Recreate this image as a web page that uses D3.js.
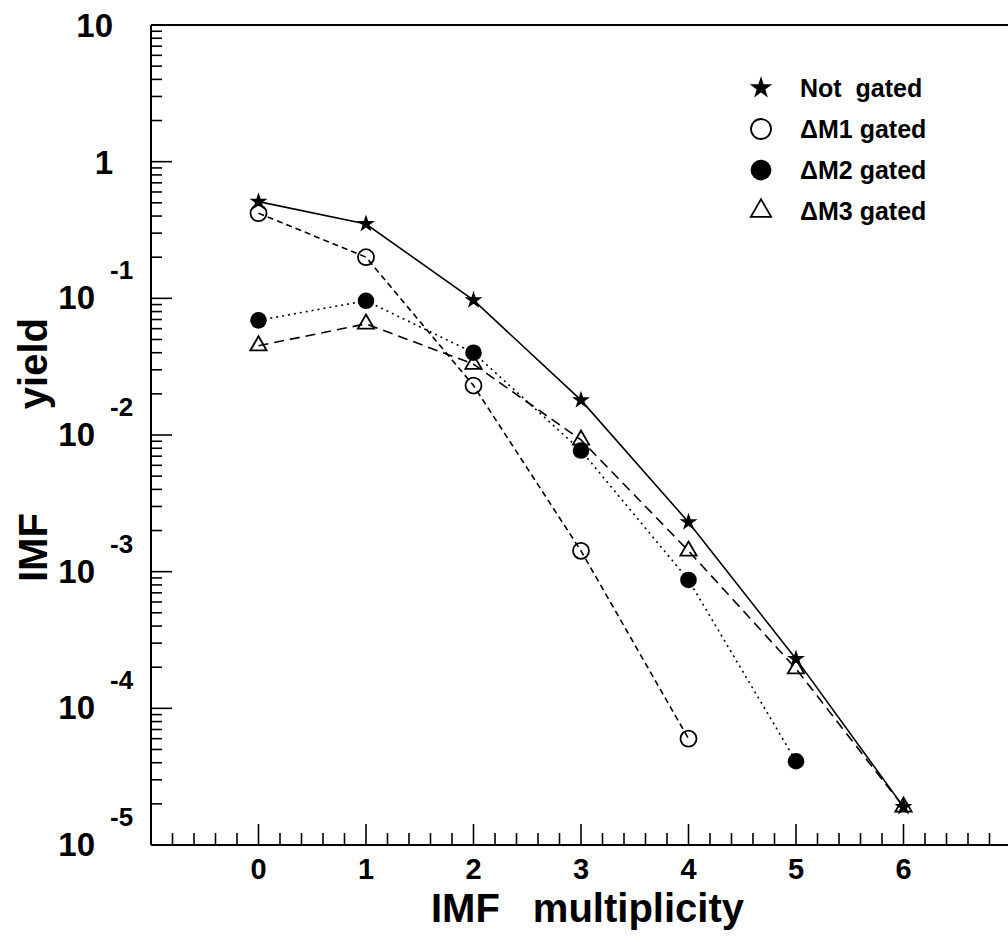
<!DOCTYPE html>
<html>
<head>
<meta charset="utf-8">
<script src="https://cdn.jsdelivr.net/npm/d3@7"></script>
<style>
  body { margin: 0; background: #fff; }
  text { font-family: "Liberation Sans", Arial, sans-serif; font-weight: bold; fill: #000; }
</style>
</head>
<body>
<div id="chart"></div>
<script>
// data
var multiplicity = [0, 1, 2, 3, 4, 5, 6];
var notGated = [0.51, 0.35, 0.097, 0.018, 0.0023, 0.00023, 0.000019];
var dm1Gated = [0.42, 0.20, 0.023, 0.00142, 0.00006];
var dm2Gated = [0.069, 0.096, 0.040, 0.0077, 0.00087, 0.000041];
var dm3Gated = [0.045, 0.065, 0.033, 0.0092, 0.00142, 0.000195, 0.000019];
var seriesNames = ["Not  gated", "\u0394M1 gated", "\u0394M2 gated", "\u0394M3 gated"];
var xTickValues = [0, 1, 2, 3, 4, 5, 6];
var yDecades = [1, 0, -1, -2, -3, -4, -5];

var svgWidth = 1008;
var svgHeight = 946;

var svg = d3.select("#chart")
    .append("svg")
    .attr("width", svgWidth)
    .attr("height", svgHeight);

// scales
var xScale = d3.scaleLinear().domain([-1, 7]).range([151, 1011]);
var yScale = d3.scaleLog().domain([1e-5, 10]).range([845, 25]);

// frame
svg.append("line")
    .attr("x1", xScale(-1)).attr("x2", svgWidth)
    .attr("y1", yScale(10)).attr("y2", yScale(10))
    .attr("stroke", "#000").attr("stroke-width", 2);
svg.append("line")
    .attr("x1", xScale(-1)).attr("x2", xScale(-1))
    .attr("y1", yScale(10)).attr("y2", yScale(1e-5))
    .attr("stroke", "#000").attr("stroke-width", 2);
svg.append("line")
    .attr("x1", xScale(-1)).attr("x2", svgWidth)
    .attr("y1", yScale(1e-5)).attr("y2", yScale(1e-5))
    .attr("stroke", "#000").attr("stroke-width", 2);

// x ticks: major every 1, minor every 0.2
var xMinor = d3.range(-1, 7.01, 0.2).map(function(v){ return Math.round(v * 10) / 10; });
svg.append("g").selectAll("line")
    .data(xMinor)
    .enter()
    .append("line")
    .attr("x1", d => xScale(d)).attr("x2", d => xScale(d))
    .attr("y1", yScale(1e-5))
    .attr("y2", d => yScale(1e-5) - (Number.isInteger(d) ? 21 : 12))
    .attr("stroke", "#000").attr("stroke-width", 1.6);

svg.append("g").selectAll("text")
    .data(xTickValues)
    .enter()
    .append("text")
    .attr("x", d => xScale(d))
    .attr("y", 879)
    .attr("text-anchor", "middle")
    .attr("font-size", "29px")
    .text(d => d);

// y ticks: decades and 2..9 minors
var yTicks = [];
d3.range(-5, 1).forEach(function(e){
    d3.range(1, 10).forEach(function(m){
        yTicks.push({v: m * Math.pow(10, e), major: m === 1});
    });
});
yTicks.push({v: 10, major: true});
svg.append("g").selectAll("line")
    .data(yTicks)
    .enter()
    .append("line")
    .attr("x1", xScale(-1))
    .attr("x2", d => xScale(-1) + (d.major ? 21 : 11))
    .attr("y1", d => yScale(d.v)).attr("y2", d => yScale(d.v))
    .attr("stroke", "#000").attr("stroke-width", 1.6);

// y tick labels
var yLabels = svg.append("g");
yDecades.forEach(function(e){
    var y = yScale(Math.pow(10, e));
    if (e >= 0) {
        yLabels.append("text")
            .attr("x", 113).attr("y", y + 12)
            .attr("text-anchor", "end")
            .attr("font-size", "33px")
            .text(e === 1 ? "10" : "1");
    } else {
        yLabels.append("text")
            .attr("x", 95).attr("y", y + 11)
            .attr("text-anchor", "end")
            .attr("font-size", "33px")
            .text("10");
        yLabels.append("text")
            .attr("x", 110).attr("y", y - 19)
            .attr("font-size", "26px")
            .text(e);
    }
});

// axis titles
svg.append("text")
    .attr("x", 431).attr("y", 922)
    .attr("font-size", "40px")
    .text("IMF");
svg.append("text")
    .attr("x", 744).attr("y", 922)
    .attr("text-anchor", "end")
    .attr("font-size", "40px")
    .text("multiplicity");
svg.append("text")
    .attr("transform", "translate(47, 582) rotate(-90)")
    .attr("font-size", "40px")
    .text("IMF");
svg.append("text")
    .attr("transform", "translate(47, 318) rotate(-90)")
    .attr("text-anchor", "end")
    .attr("font-size", "40px")
    .text("yield");

// series
var series = [
    {values: notGated, dash: null, symbol: "star"},
    {values: dm1Gated, dash: "6,4", symbol: "open"},
    {values: dm2Gated, dash: "2,4", symbol: "filled"},
    {values: dm3Gated, dash: "10,6", symbol: "triangle"}
];

var line = d3.line()
    .x((d, i) => xScale(multiplicity[i]))
    .y(d => yScale(d));

function drawSymbol(g, kind, x, y, scale) {
    if (kind === "star") {
        g.append("path")
            .attr("d", d3.symbol(d3.symbolStar, 100 * scale * scale)())
            .attr("transform", `translate(${x}, ${y})`)
            .attr("fill", "#000");
    } else if (kind === "open") {
        g.append("circle")
            .attr("cx", x).attr("cy", y).attr("r", 8 * scale)
            .attr("fill", "none").attr("stroke", "#000").attr("stroke-width", 1.8);
    } else if (kind === "filled") {
        g.append("circle")
            .attr("cx", x).attr("cy", y).attr("r", 8.3 * scale)
            .attr("fill", "#000");
    } else {
        g.append("path")
            .attr("d", d3.symbol(d3.symbolTriangle, 115 * scale * scale)())
            .attr("transform", `translate(${x}, ${y})`)
            .attr("fill", "none").attr("stroke", "#000").attr("stroke-width", 1.8);
    }
}

series.forEach(function(s){
    svg.append("path")
        .datum(s.values)
        .attr("d", line)
        .attr("fill", "none")
        .attr("stroke", "#000")
        .attr("stroke-width", 1.6)
        .attr("stroke-dasharray", s.dash);
    var g = svg.append("g");
    s.values.forEach(function(v, i){
        drawSymbol(g, s.symbol, xScale(multiplicity[i]), yScale(v), 1);
    });
});

// legend
var legend = svg.append("g");
series.forEach(function(s, i){
    var y = 88 + i * 41;
    drawSymbol(legend, s.symbol, 761, y, 1.25);
    legend.append("text")
        .attr("x", 800).attr("y", y + 9)
        .attr("font-size", "25px")
        .style("white-space", "pre")
        .text(seriesNames[i]);
});
</script>
</body>
</html>
